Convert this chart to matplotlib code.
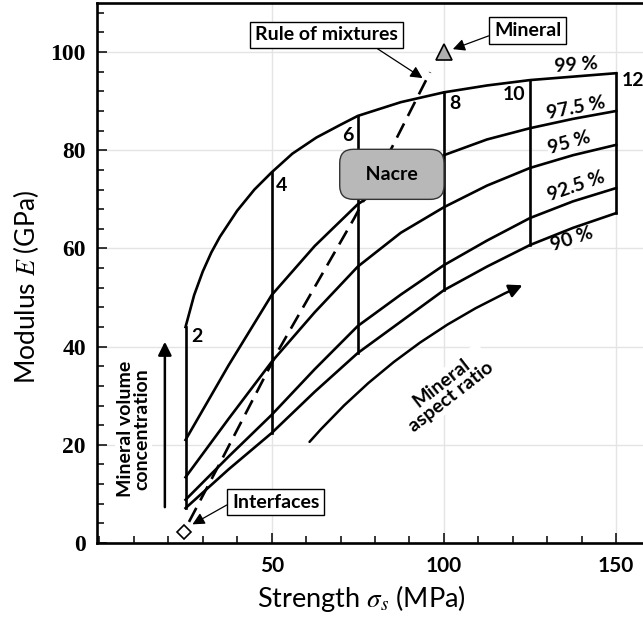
from matplotlib import pyplot as plt
from matplotlib.ticker import MultipleLocator

# strength (MPa) where the iso-concentration curves were read
STRENGTH = [25, 37.5, 50, 62.5, 75, 87.5, 100, 112.5, 125, 137.5, 150]
E_975 = [21.0, 36.2, 50.5, 60.5, 69.0, 74.8, 79.0, 82.2, 84.5, 86.4, 88.0]
E_95 = [13.4, 25.3, 36.9, 47.0, 56.3, 63.2, 68.4, 72.8, 76.4, 79.0, 81.1]
E_925 = [8.8, 17.6, 26.1, 35.4, 44.2, 50.6, 56.6, 61.6, 66.2, 69.6, 72.3]
E_90 = [7.1, 15.0, 22.4, 30.8, 38.7, 45.1, 51.5, 56.3, 60.7, 64.2, 67.2]

STRENGTH_99 = [25, 27.5, 30, 32.5, 35, 40, 45, 50, 56, 63, 70, 75, 87.5, 100, 112.5, 125, 137.5, 150]
E_99 = [44.0, 50.5, 55.3, 59.2, 62.4, 67.7, 72.0, 75.5, 79.3, 82.6, 85.2, 87.0, 89.8, 91.8, 93.2,
        94.3, 95.0, 95.7]

CONC_LABELS = ['99 %', '97.5 %', '95 %', '92.5 %', '90 %']

# mineral aspect ratio -> strength of the iso-aspect-ratio line
ASPECT_RATIO = [2, 4, 6, 8, 10, 12]
ASPECT_STRENGTH = [25, 50, 75, 100, 125, 150]

# rule of mixtures (dashed)
ROM_STRENGTH = [26, 35, 52, 74, 85, 96]
ROM_E = [4.3, 16.3, 39.3, 66.2, 80.7, 95.9]

MINERAL = (100, 100)
INTERFACES = (24.5, 2.3)

SANS = ['Lato', 'DejaVu Sans']


def main():
    plt.rcParams['font.family'] = SANS
    plt.rcParams['mathtext.fontset'] = 'stix'

    fig = plt.figure(figsize=(6.43, 6.25), dpi=100)
    ax = fig.add_axes([97 / 643, 82 / 625, 546 / 643, 540 / 625])
    ax.set_xlim(-0.7, 157.8)
    ax.set_ylim(0, 110)

    ax.set_axisbelow(True)
    ax.grid(True, which='major', color='#e4e4e4', lw=1.0, zorder=0)
    ax.xaxis.set_major_locator(MultipleLocator(50))
    ax.xaxis.set_minor_locator(MultipleLocator(10))
    ax.yaxis.set_major_locator(MultipleLocator(20))
    ax.yaxis.set_minor_locator(MultipleLocator(4))
    ax.tick_params(which='both', direction='in', width=1.1, top=False, right=False)
    ax.tick_params(which='major', length=7)
    ax.tick_params(which='minor', length=5)
    ax.tick_params(axis='x', pad=9)
    ax.tick_params(axis='y', pad=8)
    ax.set_xticks([50, 100, 150])
    ax.set_xticklabels(['50', '100', '150'], fontsize=15, fontweight='bold')
    for lab in ax.get_yticklabels():
        lab.set_family('Liberation Serif')
        lab.set_fontweight('bold')
        lab.set_fontsize(17)
    for side in ['left', 'bottom', 'top']:
        ax.spines[side].set_linewidth(1.9)
    ax.spines['right'].set_visible(False)

    ax.set_xlabel(r'Strength $\sigma_s$ (MPa)', fontsize=19.5)
    ax.set_ylabel(r'Modulus $E$ (GPa)', fontsize=19)
    ax.xaxis.set_label_coords(0.485, -0.074)
    ax.yaxis.set_label_coords(-0.103, 0.474)

    # iso-concentration curves
    curves = [(STRENGTH_99, E_99), (STRENGTH, E_975), (STRENGTH, E_95),
              (STRENGTH, E_925), (STRENGTH, E_90)]
    for xs, ys in curves:
        ax.plot(xs, ys, color='black', lw=1.9, zorder=2, solid_joinstyle='round')

    # iso-aspect-ratio lines
    for s in ASPECT_STRENGTH:
        top = E_99[STRENGTH_99.index(s)]
        bottom = E_90[STRENGTH.index(s)]
        ax.plot([s, s], [bottom, top], color='black', lw=1.9, zorder=2)

    bold = dict(fontsize=14, fontweight='bold', ha='center', va='center')
    num_pos = [(28.3, 42.0), (53.0, 72.9), (72.0, 83.1), (103.2, 89.6), (120.4, 91.4), (154.8, 94.3)]
    for r, (px, py) in zip(ASPECT_RATIO, num_pos):
        ax.text(px, py, str(r), zorder=3, **bold)

    conc_pos = [(138.4, 97.4, 4), (138.4, 88.6, 11), (136.4, 81.6, 16), (138.4, 72.6, 19), (137.3, 62.0, 18)]
    for lab, (px, py, rot) in zip(CONC_LABELS, conc_pos):
        ax.text(px, py, lab, rotation=rot, rotation_mode='anchor', zorder=1.5,
                bbox=dict(boxstyle='square,pad=0.05', fc='white', ec='none'), **bold)

    # rule of mixtures
    ax.plot(ROM_STRENGTH, ROM_E, color='black', lw=1.9, dashes=(6, 3.2), zorder=2)
    ax.plot(*MINERAL, marker='^', ms=12, mfc='#b0b0b0', mec='black', mew=1.2, zorder=4)
    ax.plot(*INTERFACES, marker='D', ms=7.5, mfc='white', mec='black', mew=1.2, zorder=4)

    arrow = dict(arrowstyle='-|>', color='black', lw=0.9, mutation_scale=18, shrinkA=0, shrinkB=0)
    box = dict(boxstyle='square,pad=0.25', fc='white', ec='black', lw=1.0)
    ax.annotate('Rule of mixtures', xy=(93.8, 94.7), xytext=(65.9, 103.5),
                bbox=box, arrowprops=dict(relpos=(0.8, 0.0), **arrow), zorder=5, **bold)
    ax.annotate('Mineral', xy=(102.6, 100.6), xytext=(124.3, 104.4),
                bbox=box, arrowprops=dict(relpos=(0.0, 0.3), **arrow), zorder=5, **bold)
    ax.annotate('Interfaces', xy=(27.0, 3.8), xytext=(51.2, 8.35),
                bbox=box, arrowprops=dict(relpos=(0.0, 0.5), **arrow), zorder=5, **bold)
    ax.text(84.9, 75.1, '  Nacre  ', zorder=5,
            bbox=dict(boxstyle='round,pad=0.85,rounding_size=0.7', fc='#b8b8b8', ec='#333333', lw=1.0),
            **bold)

    # direction arrows
    ax.annotate('', xy=(19, 41), xytext=(19, 7.3),
                arrowprops=dict(arrowstyle='-|>', color='black', lw=1.8, mutation_scale=20,
                                shrinkA=0, shrinkB=0), zorder=3)
    ax.text(9.9, 23.2, 'Mineral volume\nconcentration', rotation=90, linespacing=1.0, zorder=1.5,
            bbox=dict(boxstyle='square,pad=0.1', fc='white', ec='none'), **bold)
    ax.annotate('', xy=(122.8, 52.5), xytext=(61, 20.6),
                arrowprops=dict(arrowstyle='-|>', color='black', lw=1.8, mutation_scale=20,
                                shrinkA=0, shrinkB=0, connectionstyle='arc3,rad=-0.11'), zorder=3)
    ax.text(100.7, 31.2, 'Mineral\naspect ratio', rotation=38, linespacing=1.0, zorder=1.5,
            bbox=dict(boxstyle='square,pad=0.1', fc='white', ec='none'), **bold)

    fig.savefig('out.png', dpi=100)


if __name__ == '__main__':
    main()
